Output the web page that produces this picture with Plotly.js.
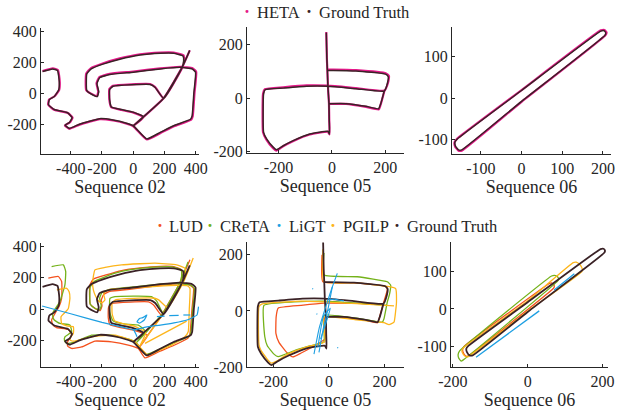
<!DOCTYPE html>
<html>
<head>
<meta charset="utf-8">
<script src="https://cdn.plot.ly/plotly-3.0.1.min.js"></script>
<style>html,body{margin:0;padding:0;background:#fff;}#chart{width:618px;height:414px;}</style>
</head>
<body>
<div id="chart"></div>
<script>
// ---------- Sequence 02 ----------
const GT02_x = [-580,-516,-484,-473,-477,-505,-537,-542,-505,-419,-391,-408,-436,-408,-344,-215,-129,-43,0,86,172,258,366,376,387,398,376,301,172,0,-150,-215,-232,-221,-230,-258,-297,-297,-269,-194,-86,43,172,258,318,322,312,194,140,108,-129,-151,-151,-140,-75,0,65,0,194,312,361];
const GT02_y = [141,158,147,74,21,-21,-42,-74,-105,-126,-158,-189,-206,-227,-200,-164,-173,-194,-210,-295,-253,-210,-168,-147,0,137,158,168,158,137,122,101,63,11,-21,-11,17,126,158,189,221,248,259,259,242,210,168,-32,38,57,46,25,-42,-88,-105,-122,-152,-210,-32,168,278];
const HETA02_x = [-580,-514,-481,-470,-474,-503,-538,-544,-506,-418,-388,-406,-437,-409,-343,-214,-128,-42,0,87,174,260,370,380,391,402,379,302,172,0,-151,-218,-235,-224,-232,-260,-301,-301,-272,-196,-86,43,172,259,321,326,314,194,140,108,-130,-153,-153,-141,-75,0,65,0,194,312,361];
const HETA02_y = [144,162,150,75,21,-19,-40,-74,-107,-128,-158,-189,-208,-230,-203,-167,-176,-197,-213,-299,-257,-213,-171,-148,0,139,162,172,162,141,126,104,64,11,-18,-7,20,128,162,193,226,253,264,264,246,211,168,-32,40,60,49,28,-42,-90,-108,-125,-155,-212,-32,168,278];
const LUD02_x = [-543,-479,-458,-458,-475,-500,-522,-515,-490,-415,-394,-420,-420,-394,-330,-245,-138,-32,32,75,160,258,350,362,375,385,362,300,172,0,-150,-190,-205,-200,-212,-240,-275,-278,-256,-180,-75,43,172,258,305,310,300,181,130,98,-135,-158,-160,-148,-80,0,90,32,181,300,362];
const LUD02_y = [196,207,175,68,15,-28,-70,-100,-118,-130,-166,-209,-235,-251,-241,-204,-209,-230,-251,-311,-273,-232,-185,-160,0,132,152,162,150,128,112,92,55,20,-10,0,30,150,190,215,245,262,272,270,252,215,170,-40,25,45,35,12,-55,-100,-118,-135,-169,-251,-40,170,313];
const CReTA02_x = [-522,-447,-432,-437,-469,-511,-515,-505,-469,-405,-394,-437,-440,-426,-373,-266,-138,-11,20,80,170,258,355,368,380,390,370,300,172,0,-150,-200,-215,-205,-215,-245,-275,-275,-250,-180,-75,43,172,250,305,310,300,190,150,117,-117,-149,-150,-130,-60,32,75,20,190,300,350];
const CReTA02_y = [270,281,239,153,47,-17,-45,-70,-92,-102,-145,-177,-200,-219,-209,-166,-166,-198,-215,-290,-255,-215,-175,-150,0,130,150,160,158,140,125,105,70,20,-5,5,30,140,175,205,239,258,268,268,250,215,172,-25,50,79,79,68,-20,-75,-95,-102,-140,-215,-25,172,300];
const PGILP02_x = [-488,-426,-410,-405,-415,-440,-462,-458,-425,-383,-383,-405,-400,-373,-320,-266,-117,11,40,96,170,245,330,351,358,362,345,280,150,0,-150,-190,-181,-200,-220,-240,-255,-260,-245,-180,-75,43,138,277,330,335,325,220,160,120,-110,-135,-135,-120,-60,10,80,40,220,325,383,null,75,341];
const PGILP02_y = [121,132,110,68,4,-25,-49,-92,-108,-113,-155,-187,-200,-204,-190,-177,-166,-209,-240,-294,-262,-230,-177,-145,0,132,148,150,145,135,125,100,58,40,50,80,120,170,249,265,281,288,292,281,260,225,180,10,60,70,60,40,-30,-75,-95,-110,-150,-240,10,180,324,null,-219,-77];
const LiGT02_x = [-583,-400,-200,-50,2,24,null,2,80,173,260,343,407,417,null,24,40,60,87,70,40,24,null,151,200,null,230,290,null,320,364];
const LiGT02_y = [19,-30,-85,-120,-134,-177,null,-134,-115,-102,-88,-70,-38,15,null,-81,-60,-55,-38,-70,-90,-81,null,-49,-45,null,-42,-40,null,-38,-38];

// ---------- Sequence 05 ----------
const GT05_x = [-21,-19,-17,-15,-11,-10,-9,-15,-83,-145,-182,-207,-219,-244,-256,-256,-250,-182,-95,-15,90,196,208,211,201,90,-17,null,196,183,175,128,53,-11];
const GT05_y = [244,150,104,44,-21,-80,-134,-124,-134,-159,-178,-193,-184,-153,-128,16,31,37,44,44,35,26,55,79,89,101,104,null,26,-21,-40,-31,-21,-21];
const HETA05_x = [-21,-19,-17,-15,-11,-10,-9,-15,-83,-146,-183,-208,-221,-246,-258,-258,-251,-182,-95,-15,90,197,210,214,203,90,-17,null,197,184,176,128,53,-11];
const HETA05_y = [246,150,106,46,-20,-80,-136,-126,-136,-161,-180,-196,-186,-154,-128,16,33,40,47,46,37,28,56,82,92,104,107,null,28,-20,-42,-33,-22,-22];
const LUD05_x = [-25,-22,90,200,210,196,182,175,128,-15,-15,-68,-100,-130,-150,-180,-191,-190,-183,-100,-18,100,198];
const LUD05_y = [200,104,100,88,78,28,-22,-42,-33,-22,-100,-133,-150,-164,-150,-112,-80,-20,10,20,28,27,24];
const CReTA05_x = [-18,-18,102,210,222,218,210,198,192,114,-18,-18,-66,-126,-183,-198,-222,-231,-234,-126,-18,100,210];
const CReTA05_y = [207,128,122,104,92,60,32,-28,-40,-28,-16,-110,-124,-142,-163,-154,-124,-92,20,32,35,28,20];
const PGILP05_x = [-22,-18,100,222,240,243,240,234,216,198,100,-18,-15,-80,-150,-190,-208,-220,-245,-252,-252,-240,-100,-18,100,234];
const PGILP05_y = [220,104,100,86,80,32,0,-40,-49,-42,-32,-22,-110,-128,-155,-180,-186,-175,-140,-120,15,25,35,32,26,18];
const LiGT05_x = [-54,-35,-10,10,30,null,-36,-20,-5,12,null,-30,-10,5,-20,-40,null,0,20,40,54,null,-60,-57,null,-45,-42,null,30,33];
const LiGT05_y = [-154,-60,20,80,134,null,-148,-60,0,86,null,-100,-40,10,-20,-130,null,40,42,38,36,null,80,78,null,-10,-12,null,-130,-133];

// ---------- Sequence 06 ----------
const GT06_x = [-147,0,205,207,203,195,0,-158,-164,-162,-155,-147];
const GT06_y = [-124,-8,150,156,161,160,18,-98,-106,-116,-124,-124];
const HETA06_x = [-147,0,206,209,204,195,0,-159,-165,-163,-155,-147];
const HETA06_y = [-126,-9,150,157,163,162,19,-98,-107,-117,-126,-126];
const LUD06_x = [-160,66,71,70,64,58,-170,-174,-171,-165,-160];
const LUD06_y = [-126,52,58,65,70,68,-100,-109,-119,-126,-126];
const CReTA06_x = [-172,79,83,80,72,64,-182,-186,-184,-178,-172];
const CReTA06_y = [-136,73,79,86,90,88,-112,-122,-132,-139,-136];
const PGILP06_x = [-160,0,145,146,140,130,122,0,-172,-176,-172,-166,-160];
const PGILP06_y = [-128,-6,100,108,118,125,124,22,-104,-112,-121,-127,-128];
const LiGT06_x = [-138,31,null,71,125];
const LiGT06_y = [-129,-5,null,51,94];

// ---------- ticks & labels ----------
const seqTitles = ['Sequence 02','Sequence 05','Sequence 06'];
const ticks02x = [-400,-200,0,200,400], ticks02y = [-200,0,200,400];
const ticks05 = [-200,0,200];
const ticks06topX = [-100,0,100,200], ticks06Y = [-100,0,100];
const ticks06botX = [-200,0,200];
const topNames = ['HETA','Ground Truth'];
const botNames = ['LUD','CReTA','LiGT','PGILP','Ground Truth'];

const C = {GT:'#3a2226', HETA:'#e5198a', LUD:'#f4511e', CReTA:'#74b21a', LiGT:'#1d9fe2', PGILP:'#fdb51b'};
const topColors = [C.HETA, C.GT];
const botColors = [C.LUD, C.CReTA, C.LiGT, C.PGILP, C.GT];
const F = 'Liberation Serif';
const TXT = '#262626';

function ln(x, y, color, w, k) {
  return {x:x, y:y, type:'scatter', mode:'lines', line:{color:color, width:w, shape:'spline', smoothing:0.4},
          xaxis:'x'+(k===1?'':k), yaxis:'y'+(k===1?'':k), showlegend:false, hoverinfo:'skip', connectgaps:false};
}
const lab = v => v.map(t => String(t));

const traces = [
  ln(HETA02_x, HETA02_y, C.HETA, 2.2, 1), ln(GT02_x, GT02_y, C.GT, 1.5, 1),
  ln(HETA05_x, HETA05_y, C.HETA, 2.2, 2), ln(GT05_x, GT05_y, C.GT, 1.5, 2),
  ln(HETA06_x, HETA06_y, C.HETA, 2.2, 3), ln(GT06_x, GT06_y, C.GT, 1.5, 3),

  ln(LUD02_x, LUD02_y, C.LUD, 1.3, 4), ln(CReTA02_x, CReTA02_y, C.CReTA, 1.3, 4),
  ln(PGILP02_x, PGILP02_y, C.PGILP, 1.3, 4), ln(GT02_x, GT02_y, C.GT, 1.8, 4), ln(LiGT02_x, LiGT02_y, C.LiGT, 1.2, 4),

  ln(LUD05_x, LUD05_y, C.LUD, 1.3, 5), ln(CReTA05_x, CReTA05_y, C.CReTA, 1.3, 5),
  ln(PGILP05_x, PGILP05_y, C.PGILP, 1.3, 5), ln(GT05_x, GT05_y, C.GT, 1.8, 5), ln(LiGT05_x, LiGT05_y, C.LiGT, 1.1, 5),

  ln(LUD06_x, LUD06_y, C.LUD, 1.3, 6), ln(CReTA06_x, CReTA06_y, C.CReTA, 1.3, 6),
  ln(PGILP06_x, PGILP06_y, C.PGILP, 1.3, 6), ln(GT06_x, GT06_y, C.GT, 1.8, 6), ln(LiGT06_x, LiGT06_y, C.LiGT, 1.3, 6)
];

function xa(dom, range, tv, title, anchor) {
  return {domain:dom, range:range, tickvals:tv, ticktext:lab(tv), anchor:anchor,
    showgrid:false, zeroline:false, showline:true, linecolor:TXT, linewidth:1,
    ticks:'inside', ticklen:3, tickcolor:TXT, tickangle:0,
    tickfont:{family:F, size:16, color:TXT},
    title:{text:title, font:{family:F, size:18, color:TXT}, standoff:1}, fixedrange:true};
}
function ya(dom, range, tv, anchor) {
  return {domain:dom, range:range, tickvals:tv, ticktext:lab(tv), anchor:anchor,
    showgrid:false, zeroline:false, showline:true, linecolor:TXT, linewidth:1,
    ticks:'inside', ticklen:3, tickcolor:TXT,
    tickfont:{family:F, size:16, color:TXT}, fixedrange:true};
}

// legend built as text items: dot x (px) and text x (px) per entry
const W = 618, H = 414;
const topDotX = [247, 309], topTextX = [255, 317], topY = 12;
const botDotX = [160, 210, 279, 333, 397], botTextX = [167, 218, 287, 341, 405], botY = 226;
const annotations = [];
function legendItems(names, colors, dotX, textX, yPx) {
  names.forEach((n, i) => {
    annotations.push({xref:'paper', yref:'paper', x:dotX[i]/W, y:1 - yPx/H, xanchor:'center', yanchor:'middle',
      text:'<b>·</b>', showarrow:false, font:{family:F, size:18, color:colors[i]}});
    annotations.push({xref:'paper', yref:'paper', x:textX[i]/W, y:1 - yPx/H, xanchor:'left', yanchor:'middle',
      text:n, showarrow:false, font:{family:F, size:16.5, color:TXT}});
  });
}
legendItems(topNames, topColors, topDotX, topTextX, topY);
legendItems(botNames, botColors, botDotX, botTextX, botY);

const layout = {
  width:618, height:414, margin:{l:0, r:0, t:0, b:0},
  paper_bgcolor:'#fff', plot_bgcolor:'rgba(0,0,0,0)',
  font:{family:F, color:TXT},
  showlegend:false,
  xaxis:  xa([0.0663,0.3220], [-590,420], ticks02x, seqTitles[0], 'y'),
  yaxis:  ya([0.6280,0.9324], [-393,423], ticks02y, 'x'),
  xaxis2: xa([0.3997,0.6537], [-318,270], ticks05, seqTitles[1], 'y2'),
  yaxis2: ya([0.6304,0.9348], [-205,265], ticks05, 'x2'),
  xaxis3: xa([0.7314,0.9887], [-171,220], ticks06topX, seqTitles[2], 'y3'),
  yaxis3: ya([0.6280,0.9348], [-134,170], ticks06Y, 'x3'),
  xaxis4: xa([0.0663,0.3220], [-590,420], ticks02x, seqTitles[0], 'y4'),
  yaxis4: ya([0.1135,0.4130], [-369,420], ticks02y, 'x4'),
  xaxis5: xa([0.3997,0.6537], [-295,270], ticks05, seqTitles[1], 'y5'),
  yaxis5: ya([0.1135,0.4155], [-200,246], ticks05, 'x5'),
  xaxis6: xa([0.7298,0.9838], [-205,215], ticks06botX, seqTitles[2], 'y6'),
  yaxis6: ya([0.1135,0.4155], [-155,179], ticks06Y, 'x6'),
  annotations: annotations
};

Plotly.newPlot('chart', traces, layout, {displayModeBar:false, staticPlot:true});
</script>
</body>
</html>
